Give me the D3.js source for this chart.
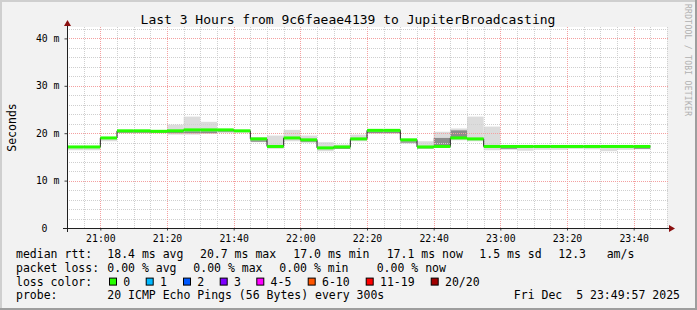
<!DOCTYPE html>
<html>
<head>
<meta charset="utf-8">
<script src="https://cdn.jsdelivr.net/npm/d3@7"></script>
<style>
body { margin: 0; background: #fff; }
text { font-family: 'DejaVu Sans Mono', monospace; fill: #000; }
</style>
</head>
<body>
<div id="chart-area"></div>
<script>
// 5 minute steps
var steps = ['20:50', '20:55', '21:00', '21:05', '21:10', '21:15', '21:20', '21:25', '21:30', '21:35',
	'21:40', '21:45', '21:50', '21:55', '22:00', '22:05', '22:10', '22:15', '22:20', '22:25',
	'22:30', '22:35', '22:40', '22:45', '22:50', '22:55', '23:00', '23:05', '23:10', '23:15',
	'23:20', '23:25', '23:30', '23:35', '23:40']
// median rtt, ms
var median = [17.1, 17.1, 19.0, 20.5, 20.5, 20.4, 20.5, 20.7, 20.7, 20.7,
	20.5, 18.8, 17.2, 19.0, 18.6, 16.9, 17.1, 18.8, 20.6, 20.6,
	18.6, 17.1, 17.2, 19.0, 18.8, 17.2, 17.2, 17.2, 17.2, 17.2,
	17.2, 17.2, 17.2, 17.2, 17.2]
// smoke: full spread of the pings
var smokeLo = [16.4, 16.4, 18.3, 20.0, 20.0, 20.0, 19.7, 19.7, 19.9, 20.2,
	20.1, 18.1, 16.7, 18.3, 18.1, 16.2, 16.7, 18.3, 20.0, 20.0,
	17.8, 16.7, 17.0, 18.5, 18.3, 16.4, 16.5, 16.3, 16.5, 16.5,
	16.7, 16.6, 16.2, 16.5, 16.6]
var smokeHi = [17.3, 17.3, 19.2, 20.7, 20.7, 20.6, 21.8, 23.5, 22.4, 20.8,
	20.7, 19.2, 19.5, 20.7, 19.5, 18.1, 17.6, 19.7, 20.8, 20.8,
	18.8, 18.3, 20.3, 21.0, 23.5, 21.4, 17.3, 17.3, 17.3, 17.3,
	17.3, 17.3, 17.3, 17.3, 17.3]
// smoke: dense core
var darkLo = [null, null, null, 20.1, 20.1, 20.1, 20.0, 20.0, 20.0, 20.2,
	null, 18.2, null, null, 18.1, null, 16.7, null, 20.0, 20.0,
	18.0, 16.8, 17.4, 19.0, null, null, 16.7, null, null, null,
	null, null, null, null, 16.7]
var darkHi = [null, null, null, 20.3, 20.3, 20.3, 20.3, 20.4, 20.4, 20.4,
	null, 18.5, null, null, 18.3, null, 16.9, null, 20.3, 20.3,
	18.3, 17.0, 19.0, 20.6, null, null, 16.9, null, null, null,
	null, null, null, null, 17.0]

var yTicks = [0, 10, 20, 30, 40]
var lossLabels = ['0', '1', '2', '3', '4-5', '6-10', '11-19', '20/20']
var lossColors = ['#26ff00', '#00b8ff', '#0059ff', '#7e00ff', '#ff00ff', '#ff5500', '#ff0000', '#a00000']

var rttStats = ['18.4 ms avg', '20.7 ms max', '17.0 ms min', '17.1 ms now', '1.5 ms sd', '12.3', 'am/s']
var lossStats = ['0.00 % avg', '0.00 % max', '0.00 % min', '0.00 % now']
var probeText = '20 ICMP Echo Pings (56 Bytes) every 300s'
var stamp = 'Fri Dec  5 23:49:57 2025'
var title = 'Last 3 Hours from 9c6faeae4139 to JupiterBroadcasting'

var W = 697, H = 310
var plot = { left: 67, top: 27, right: 667, bottom: 228 }

var svg = d3.select('#chart-area').append('svg')
	.attr('width', W)
	.attr('height', H)

// frame
svg.append('rect').attr('width', W).attr('height', H).attr('fill', '#f2f2f2')
svg.append('path').attr('d', `M0,${H} V0 H${W}`).attr('fill', 'none').attr('stroke', '#cfcfcf').attr('stroke-width', 4)
svg.append('path').attr('d', `M0,${H} H${W} V0`).attr('fill', 'none').attr('stroke', '#9e9e9e').attr('stroke-width', 4)

var parse = d3.timeParse('%H:%M')
var t0 = parse(steps[0])
var x = d3.scaleTime()
	.domain([t0, d3.timeMinute.offset(t0, 180)])
	.range([plot.left, plot.right])
var y = d3.scaleLinear()
	.domain([0, (plot.bottom - plot.top) / 4.74])
	.range([plot.bottom, plot.top])

var data = steps.map((s, i) => ({
	t: parse(s),
	t1: d3.timeMinute.offset(parse(s), 5),
	med: median[i], lo: smokeLo[i], hi: smokeHi[i], dlo: darkLo[i], dhi: darkHi[i]
}))

var g = svg.append('g')

g.append('rect')
	.attr('x', plot.left).attr('y', plot.top)
	.attr('width', plot.right - plot.left).attr('height', plot.bottom - plot.top)
	.attr('fill', '#fff')

// smoke
g.selectAll('rect.smoke').data(data).enter().append('rect')
	.attr('class', 'smoke')
	.attr('x', d => x(d.t)).attr('width', d => x(d.t1) - x(d.t))
	.attr('y', d => y(d.hi)).attr('height', d => y(d.lo) - y(d.hi))
	.attr('fill', '#dcdcdc')

g.selectAll('rect.core').data(data.filter(d => d.dlo != null)).enter().append('rect')
	.attr('class', 'core')
	.attr('x', d => x(d.t)).attr('width', d => x(d.t1) - x(d.t))
	.attr('y', d => y(d.dhi)).attr('height', d => y(d.dlo) - y(d.dhi))
	.attr('fill', '#8c8c8c')

// grid
var minorX = x.ticks(d3.timeMinute.every(5)).filter(d => d.getMinutes() % 20 != 0 && x(d) > plot.left)
var majorX = x.ticks(d3.timeMinute.every(20))
var minorY = d3.range(2, y.domain()[1], 2).filter(v => v % 10 != 0)
var majorY = yTicks.filter(v => v > 0)

var grid = g.append('g').attr('stroke-dasharray', '1,1').attr('stroke-width', 1)
grid.selectAll('line.mx').data(minorX).enter().append('line')
	.attr('x1', d => Math.round(x(d)) + .5).attr('x2', d => Math.round(x(d)) + .5)
	.attr('y1', plot.top).attr('y2', plot.bottom)
	.attr('stroke', '#cfcfcf')
grid.selectAll('line.my').data(minorY).enter().append('line')
	.attr('y1', d => Math.round(y(d)) + .5).attr('y2', d => Math.round(y(d)) + .5)
	.attr('x1', plot.left).attr('x2', plot.right + 1)
	.attr('stroke', '#cfcfcf')
grid.selectAll('line.Mx').data(majorX).enter().append('line')
	.attr('x1', d => Math.round(x(d)) + .5).attr('x2', d => Math.round(x(d)) + .5)
	.attr('y1', plot.top).attr('y2', plot.bottom)
	.attr('stroke', '#f4a0a0')
grid.selectAll('line.My').data(majorY).enter().append('line')
	.attr('y1', d => Math.round(y(d)) + .5).attr('y2', d => Math.round(y(d)) + .5)
	.attr('x1', plot.left).attr('x2', plot.right + 1)
	.attr('stroke', '#f4a0a0')

// median line
var stepLine = d3.line().x(d => x(d.t)).y(d => y(d.med)).curve(d3.curveStepAfter)
var lineData = data.concat([{ t: data[data.length - 1].t1, med: data[data.length - 1].med }])
g.append('path').datum(lineData)
	.attr('d', stepLine)
	.attr('fill', 'none').attr('stroke', '#202020').attr('stroke-width', 1)

// loss colour band around median
g.selectAll('rect.loss').data(data).enter().append('rect')
	.attr('class', 'loss')
	.attr('x', d => x(d.t)).attr('width', d => x(d.t1) - x(d.t))
	.attr('y', d => y(d.med) - 1.5).attr('height', 3)
	.attr('fill', lossColors[0])

// axes
var xAxis = d3.axisBottom(x).ticks(d3.timeMinute.every(20)).tickFormat(d3.timeFormat('%H:%M')).tickSize(2).tickPadding(5)
var xg = svg.append('g').attr('transform', `translate(0, ${plot.bottom + .5})`).call(xAxis)
xg.select('.domain').remove()
xg.selectAll('line').attr('stroke', '#404040')
xg.selectAll('text').attr('font-size', '9.8px').attr('font-family', 'DejaVu Sans Mono').attr('fill', '#000')

var yAxis = d3.axisLeft(y).tickValues(yTicks).tickFormat(d => d ? d + ' m' : '0').tickSize(3).tickPadding(5)
var yg = svg.append('g').attr('transform', `translate(${plot.left + .5}, 0)`).call(yAxis)
yg.select('.domain').remove()
yg.selectAll('line').attr('stroke', '#404040')
yg.selectAll('text').attr('font-size', '9.8px').attr('font-family', 'DejaVu Sans Mono').attr('fill', '#000')
	.attr('dx', d => d ? 0 : -12)

svg.append('line')
	.attr('x1', plot.left - 4).attr('x2', plot.right + 6)
	.attr('y1', plot.bottom + .5).attr('y2', plot.bottom + .5)
	.attr('stroke', '#202020')
svg.append('line')
	.attr('x1', plot.left + .5).attr('x2', plot.left + .5)
	.attr('y1', plot.bottom + 4).attr('y2', plot.top - 4)
	.attr('stroke', '#202020')
svg.append('path')
	.attr('d', `M${plot.right + 2},${plot.bottom - 3} L${plot.right + 8},${plot.bottom + .5} L${plot.right + 2},${plot.bottom + 4} Z`)
	.attr('fill', '#8b1010')
svg.append('path')
	.attr('d', `M${plot.left - 3},${plot.top - 1} L${plot.left + .5},${plot.top - 7} L${plot.left + 4},${plot.top - 1} Z`)
	.attr('fill', '#8b1010')

// texts
svg.append('text')
	.attr('x', 348).attr('y', 24)
	.attr('text-anchor', 'middle')
	.attr('font-size', '13px')
	.text(title)

svg.append('text')
	.attr('transform', 'translate(15.5, 127.5) rotate(-90)')
	.attr('text-anchor', 'middle')
	.attr('font-size', '11.5px')
	.text('Seconds')

svg.append('text')
	.attr('transform', 'translate(685, 4) rotate(90)')
	.attr('font-size', '8px')
	.attr('font-family', 'DejaVu Sans')
	.attr('textLength', 112)
	.style('fill', '#b0b0b0')
	.text('RRDTOOL / TOBI OETIKER')

var fs = '11.5px'
function put(str, px, py) {
	return svg.append('text').attr('x', px).attr('y', py).attr('font-size', fs)
		.style('white-space', 'pre').text(str)
}

var row = [258, 271.8, 285.6, 299.4]

put('median rtt:', 16, row[0])
var rttX = [107.3, 200, 293.3, 386.7, 479.3, 558.3, 606.7]
rttStats.forEach((s, i) => put(s, rttX[i], row[0]))

put('packet loss:', 16, row[1])
var lossX = [107.3, 193.3, 279.3, 376.7]
lossStats.forEach((s, i) => put(s, lossX[i], row[1]))

put('loss color:', 16, row[2])
var boxX = [109, 145.7, 183, 219.7, 256.3, 307.7, 365.7, 430.7]
lossLabels.forEach((s, i) => {
	svg.append('rect')
		.attr('x', boxX[i] + .5).attr('y', row[2] - 7.5)
		.attr('width', 7).attr('height', 7)
		.attr('fill', lossColors[i]).attr('stroke', '#000')
	put(s, boxX[i] + 14.3, row[2])
})

put('probe:', 16, row[3])
put(probeText, 107.3, row[3])
put(stamp, 680, row[3]).attr('text-anchor', 'end')
</script>
</body>
</html>
